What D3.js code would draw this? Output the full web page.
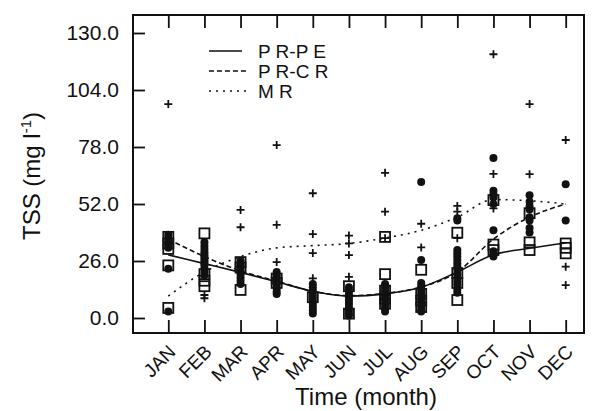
<!DOCTYPE html>
<html>
<head>
<meta charset="utf-8">
<script src="https://cdn.jsdelivr.net/npm/d3@7"></script>
<style>
  body { margin: 0; background: #fff; }
  svg { display: block; font-family: "Liberation Sans", Arial, sans-serif; }
  .axis text { fill: #111; }
  .axis line { stroke: #111; stroke-width: 1.8; }
  .axis path { display: none; }
</style>
</head>
<body>
<svg id="chart"></svg>
<script>
// months on the x axis
const months = ['JAN', 'FEB', 'MAR', 'APR', 'MAY', 'JUN', 'JUL', 'AUG', 'SEP', 'OCT', 'NOV', 'DEC'];
const yTicks = [0, 26, 52, 78, 104, 130];

// smoothed monthly curves (mg l-1)
const prpeCurve = [28.8, 24.8, 20.8, 16.5, 12.2, 10, 11, 14, 21, 28.8, 31.8, 34.2];
const prcrCurve = [36, 28, 21.5, 16.8, 12.2, 10.2, 11.2, 14.2, 21, 36, 46, 52];
const mrCurve = [10, 21, 28, 32, 33, 34, 36.5, 40, 46, 54, 53.5, 52];

// observations per month, one list per marker type
const circleObs = [
  [38, 36.5, 35, 33, 32, 22.5, 3],
  [34.5, 33, 31.5, 30, 29, 28, 27, 26, 25, 24, 22.5, 21, 19.5],
  [26, 24.5, 23, 21.5, 20, 18.5, 17, 15.5],
  [21, 19.5, 18, 17, 16, 15, 13.5, 12, 11],
  [15.5, 14, 12.5, 11, 9.5, 8, 6.5, 5, 3.5, 2],
  [14, 12.5, 11, 9.5, 8, 6.5, 5, 3.5, 2, 1],
  [15.5, 14, 12.5, 11, 9.5, 8, 6, 4.5, 3],
  [62, 26.5, 16, 14.5, 13, 11.5, 10, 8.5, 7, 5.5, 4, 3],
  [45.5, 44.5, 31, 29.5, 28, 26.5, 25, 23.5, 22, 20, 18, 16.5, 15, 13, 11.5],
  [73, 58, 56.5, 55, 52, 40, 30.5, 29.5, 28],
  [56, 53, 51, 49.5, 46, 44.5, 41, 39],
  [61, 44.5]
];
const squareObs = [
  [37, 34, 31.5, 24, 4.6],
  [38.6, 20, 17, 14.5],
  [25.5, 23, 12.8],
  [18, 16],
  [9.5],
  [14.5, 2],
  [37, 20, 12.5, 9, 6.5],
  [22, 11, 8, 5],
  [38.9, 20.5, 16, 8.2],
  [53.8, 33.5, 31],
  [47.8, 34.5, 31],
  [34, 32, 29.5]
];
const plusObs = [
  [97.6],
  [10.5, 9],
  [49.3, 41.4],
  [78.9, 42.5, 25.5],
  [56.9, 38.3, 29.6, 18.1],
  [37.6, 34, 28.7, 18.8],
  [66.2, 48.5, 36.4],
  [43, 32.2],
  [51.1, 48.5, 36.4],
  [120.3, 65.7, 50],
  [97.6, 65.6],
  [81.2, 23.4, 15]
];

const legendNames = ['P R-P E', 'P R-C R', 'M R'];

const width = 598, height = 411;
const frame = {left: 133, top: 15, right: 584, bottom: 333};

const svg = d3.select('#chart')
    .attr('width', width)
    .attr('height', height);

const xScale = d3.scalePoint()
    .domain(months)
    .range([168.3, 565.7]);

const yScale = d3.scaleLinear()
    .domain([0, 130])
    .range([318, 33]);

// flatten observations into {month, value}
const flat = obs => obs.flatMap((vals, i) => vals.map(v => ({month: months[i], value: v})));

// frame
svg.append('rect')
    .attr('x', frame.left)
    .attr('y', frame.top)
    .attr('width', frame.right - frame.left)
    .attr('height', frame.bottom - frame.top)
    .attr('fill', 'none')
    .attr('stroke', '#111')
    .attr('stroke-width', 2);

// y axis, ticks pointing inward
svg.append('g')
    .attr('class', 'axis y-axis')
    .attr('transform', `translate(${frame.left},0)`)
    .call(d3.axisLeft(yScale).tickValues(yTicks).tickFormat(d3.format('.1f')).tickSize(-12).tickPadding(14))
    .selectAll('text')
      .style('font-size', '21px');

// top ticks
svg.append('g')
    .attr('class', 'axis')
    .attr('transform', `translate(0,${frame.top})`)
    .call(d3.axisTop(xScale).tickSize(-13).tickFormat(''));

// bottom axis with rotated month labels
const xAxisG = svg.append('g')
    .attr('class', 'axis x-axis')
    .attr('transform', `translate(0,${frame.bottom})`)
    .call(d3.axisBottom(xScale).tickSize(-13));

xAxisG.selectAll('text')
    .attr('y', 0)
    .attr('dy', 0)
    .style('font-size', '19px')
    .style('text-anchor', 'end')
    .attr('transform', 'translate(8,20) rotate(-45)');

// curves
const line = d3.line()
    .x((d, i) => xScale(months[i]))
    .y(d => yScale(d))
    .curve(d3.curveMonotoneX);

const curves = [
  {values: prpeCurve, dash: null},
  {values: prcrCurve, dash: '5,3'},
  {values: mrCurve, dash: '2,5'}
];

svg.selectAll('.curve')
    .data(curves)
  .join('path')
    .attr('class', 'curve')
    .attr('d', d => line(d.values))
    .attr('fill', 'none')
    .attr('stroke', '#111')
    .attr('stroke-width', 1.6)
    .attr('stroke-dasharray', d => d.dash);

// markers
svg.selectAll('.dot')
    .data(flat(circleObs))
  .join('circle')
    .attr('class', 'dot')
    .attr('cx', d => xScale(d.month))
    .attr('cy', d => yScale(d.value))
    .attr('r', 4)
    .attr('fill', '#111');

svg.selectAll('.sq')
    .data(flat(squareObs))
  .join('rect')
    .attr('class', 'sq')
    .attr('x', d => xScale(d.month) - 5)
    .attr('y', d => yScale(d.value) - 5)
    .attr('width', 10)
    .attr('height', 10)
    .attr('fill', 'none')
    .attr('stroke', '#111')
    .attr('stroke-width', 1.8);

svg.selectAll('.plus')
    .data(flat(plusObs))
  .join('path')
    .attr('class', 'plus')
    .attr('transform', d => `translate(${xScale(d.month)},${yScale(d.value)})`)
    .attr('d', 'M-4,0H4M0,-4V4')
    .attr('stroke', '#111')
    .attr('stroke-width', 1.8);

// legend
const legend = svg.append('g').attr('class', 'legend');
const legendRows = legend.selectAll('g')
    .data(curves)
  .join('g')
    .attr('transform', (d, i) => `translate(209,${51 + i * 20})`);

legendRows.append('line')
    .attr('x1', 0)
    .attr('x2', (d, i) => i === 0 ? 33 : 38)
    .attr('stroke', '#111')
    .attr('stroke-width', 1.6)
    .attr('stroke-dasharray', d => d.dash);

legendRows.append('text')
    .attr('x', 49)
    .attr('y', 7)
    .style('font-size', '19px')
    .style('fill', '#111')
    .text((d, i) => legendNames[i]);

// axis titles
svg.append('text')
    .attr('x', 366)
    .attr('y', 405)
    .style('text-anchor', 'middle')
    .style('font-size', '24px')
    .style('fill', '#111')
    .text('Time (month)');

const yTitle = svg.append('text')
    .attr('transform', 'translate(40,176) rotate(-90)')
    .style('text-anchor', 'middle')
    .style('font-size', '24px')
    .style('fill', '#111');
yTitle.append('tspan').text('TSS (mg l');
yTitle.append('tspan').attr('dy', -9).style('font-size', '15px').text('-1');
yTitle.append('tspan').attr('dy', 9).text(')');
</script>
</body>
</html>
